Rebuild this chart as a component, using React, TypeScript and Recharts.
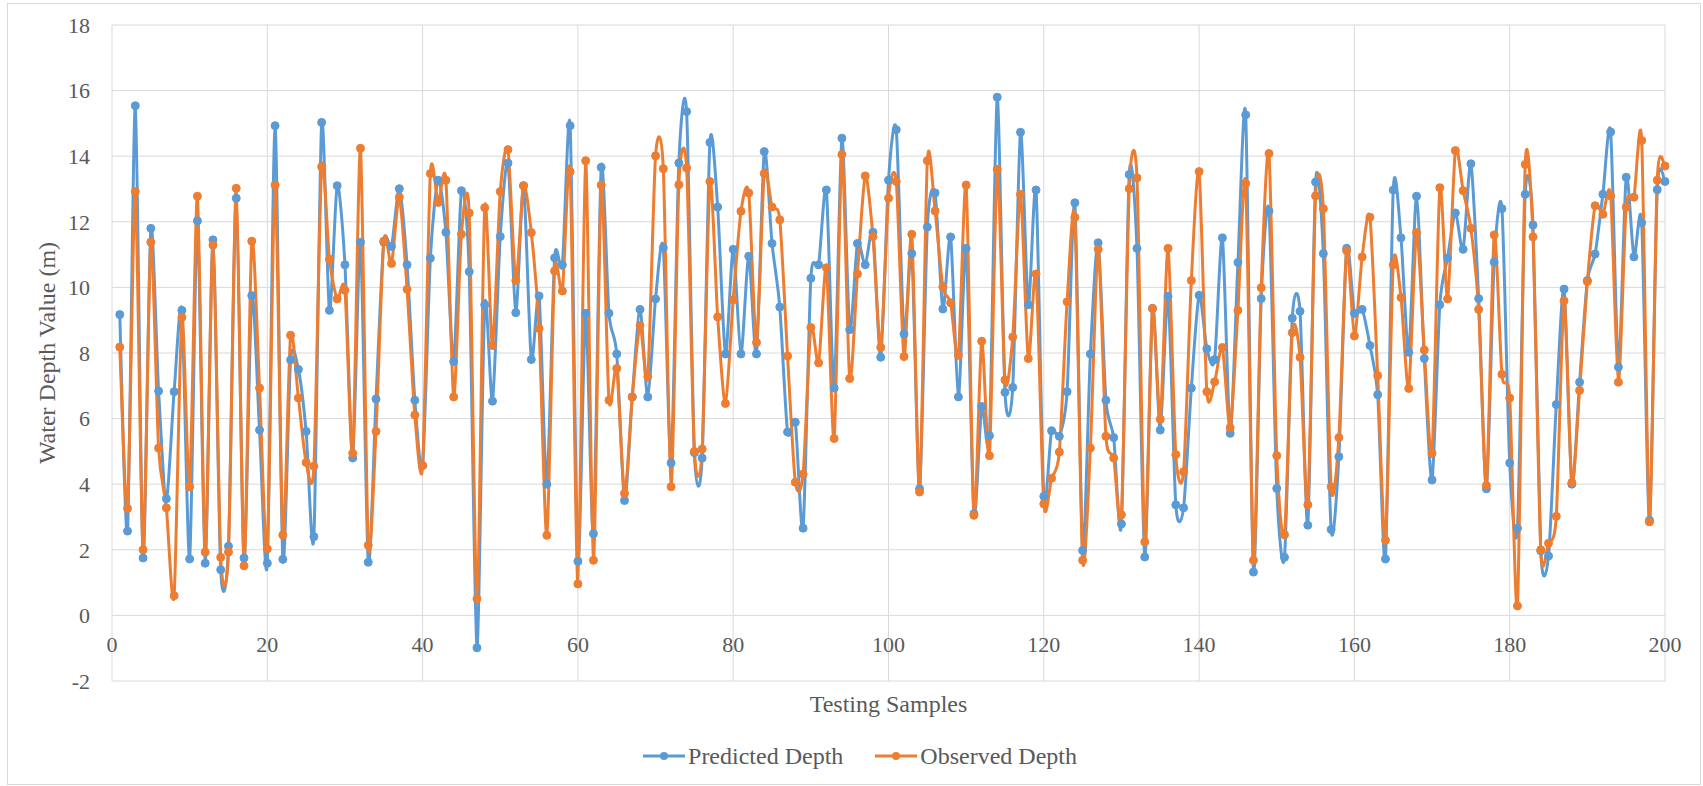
import React from "react";
import { LineChart, Line, XAxis, YAxis, CartesianGrid, Legend } from "recharts";

// sample-by-sample water depths (m)
const predictedDepth = [
  9.17, 2.57, 15.54, 1.75, 11.8, 6.84, 3.56, 6.82, 9.3, 1.72,
  12.03, 1.59, 11.45, 1.39, 2.11, 12.72, 1.75, 9.75, 5.65, 1.59,
  14.93, 1.71, 7.79, 7.5, 5.61, 2.4, 15.03, 9.3, 13.1, 10.69,
  4.8, 11.38, 1.62, 6.6, 11.38, 11.25, 13.01, 10.69, 6.56, 4.57,
  10.89, 13.27, 11.68, 7.74, 12.95, 10.48, -0.99, 9.47, 6.53, 11.55,
  13.79, 9.23, 13.1, 7.8, 9.74, 4.0, 10.9, 10.69, 14.93, 1.65,
  9.21, 2.49, 13.66, 9.21, 7.97, 3.5, 6.66, 9.33, 6.66, 9.65,
  11.21, 4.65, 13.79, 15.36, 4.96, 4.8, 14.42, 12.45, 7.97, 11.16,
  7.97, 10.95, 7.97, 14.14, 11.34, 9.4, 5.59, 5.89, 2.66, 10.28,
  10.69, 12.97, 6.93, 14.55, 8.71, 11.34, 10.69, 11.68, 7.87, 13.27,
  14.81, 8.58, 11.03, 3.86, 11.84, 12.88, 9.34, 11.54, 6.66, 11.19,
  3.1, 6.37, 5.48, 15.8, 6.8, 6.95, 14.73, 9.47, 12.97, 3.63,
  5.63, 5.46, 6.82, 12.58, 1.98, 7.97, 11.36, 6.56, 5.42, 2.79,
  13.44, 11.19, 1.78, 9.36, 5.65, 9.73, 3.37, 3.28, 6.93, 9.76,
  8.13, 7.8, 11.51, 5.55, 10.76, 15.26, 1.32, 9.66, 12.33, 3.87,
  1.77, 9.06, 9.27, 2.75, 13.21, 11.03, 2.62, 4.84, 11.19, 9.21,
  9.33, 8.23, 6.73, 1.72, 12.97, 11.51, 8.02, 12.78, 7.83, 4.13,
  9.47, 10.9, 12.27, 11.16, 13.77, 9.66, 3.86, 10.77, 12.4, 4.65,
  2.66, 12.84, 11.9, 1.97, 1.81, 6.43, 9.95, 4.0, 7.11, 10.21,
  11.02, 12.84, 14.74, 7.57, 13.36, 10.93, 11.97, 2.9, 12.98, 13.23,
];

const observedDepth = [
  8.18, 3.26, 12.92, 2.0, 11.38, 5.1, 3.28, 0.6, 9.09, 3.92,
  12.78, 1.93, 11.29, 1.77, 1.93, 13.02, 1.51, 11.41, 6.93, 2.03,
  13.12, 2.45, 8.54, 6.63, 4.66, 4.55, 13.68, 10.86, 9.65, 9.91,
  4.94, 14.24, 2.14, 5.61, 11.41, 10.73, 12.75, 9.94, 6.11, 4.57,
  13.47, 12.59, 13.27, 6.66, 11.62, 12.27, 0.51, 12.43, 8.23, 12.92,
  14.2, 10.21, 13.1, 11.67, 8.75, 2.44, 10.5, 9.89, 13.53, 0.96,
  13.86, 1.68, 13.12, 6.56, 7.53, 3.72, 6.66, 8.84, 7.28, 14.01,
  13.62, 3.92, 13.13, 13.64, 5.0, 5.07, 13.23, 9.1, 6.46, 9.62,
  12.32, 12.88, 8.32, 13.47, 12.45, 12.06, 7.91, 4.06, 4.31, 8.78,
  7.7, 10.6, 5.39, 14.05, 7.22, 10.41, 13.4, 11.55, 8.17, 12.72,
  13.23, 7.89, 11.62, 3.76, 13.86, 12.33, 10.02, 9.53, 7.93, 13.12,
  3.05, 8.36, 4.87, 13.6, 7.18, 8.49, 12.84, 7.83, 10.41, 3.4,
  4.18, 4.98, 9.56, 12.14, 1.68, 5.1, 11.16, 5.46, 4.8, 3.07,
  13.01, 13.34, 2.24, 9.36, 5.98, 11.19, 4.9, 4.38, 10.21, 13.53,
  6.82, 7.12, 8.17, 5.72, 9.3, 13.17, 1.68, 9.99, 14.08, 4.87,
  2.46, 8.62, 7.87, 3.37, 12.79, 12.4, 3.92, 5.42, 11.12, 8.52,
  10.93, 12.14, 7.31, 2.29, 10.69, 9.69, 6.92, 11.67, 8.09, 4.94,
  13.04, 9.65, 14.17, 12.95, 11.8, 9.33, 3.96, 11.6, 7.35, 6.63,
  0.29, 13.75, 11.54, 2.0, 2.2, 3.02, 9.59, 4.05, 6.86, 10.18,
  12.49, 12.23, 12.79, 7.11, 12.45, 12.75, 14.48, 2.85, 13.27, 13.7,
];

const xTicks = [0, 20, 40, 60, 80, 100, 120, 140, 160, 180, 200];
const yTicks = [-2, 0, 2, 4, 6, 8, 10, 12, 14, 16, 18];

const PREDICTED_COLOR = "#5B9BD5";
const OBSERVED_COLOR = "#ED7D31";
const TEXT_COLOR = "#595959";
const GRID_COLOR = "#d9d9d9";
const FONT = '"Liberation Serif", "DejaVu Serif", "Noto Serif", "Times New Roman", Times, serif';

const seriesList = [
  { key: "predicted", name: "Predicted Depth", color: PREDICTED_COLOR },
  { key: "observed", name: "Observed Depth", color: OBSERVED_COLOR },
];

const rows = predictedDepth.map((p, i) => ({
  sample: i + 1,
  predicted: p,
  observed: observedDepth[i],
}));

// Office-style smoothed line: cubic segments with damped Catmull-Rom tangents
const SMOOTH = 1 / 8;
const smoothCurve = (context: any) => {
  let pts: number[][] = [];
  return {
    areaStart() {},
    areaEnd() {},
    lineStart() {
      pts = [];
    },
    point(x: number, y: number) {
      pts.push([+x, +y]);
    },
    lineEnd() {
      if (!pts.length) return;
      context.moveTo(pts[0][0], pts[0][1]);
      for (let i = 0; i < pts.length - 1; i++) {
        const p0 = pts[Math.max(i - 1, 0)];
        const p1 = pts[i];
        const p2 = pts[i + 1];
        const p3 = pts[Math.min(i + 2, pts.length - 1)];
        context.bezierCurveTo(
          p1[0] + (p2[0] - p0[0]) * SMOOTH,
          p1[1] + (p2[1] - p0[1]) * SMOOTH,
          p2[0] - (p3[0] - p1[0]) * SMOOTH,
          p2[1] - (p3[1] - p1[1]) * SMOOTH,
          p2[0],
          p2[1]
        );
      }
    },
  };
};

function DepthLegend() {
  return (
    <div
      style={{
        display: "flex",
        justifyContent: "center",
        gap: 32,
        paddingLeft: 17,
        fontFamily: FONT,
        fontSize: 24,
        lineHeight: "28px",
        color: TEXT_COLOR,
      }}
    >
      {seriesList.map((s) => (
        <div key={s.key} style={{ display: "flex", alignItems: "center" }}>
          <svg width={42} height={12}>
            <line x1={0} y1={6} x2={42} y2={6} stroke={s.color} strokeWidth={3} />
            <circle cx={21} cy={6} r={4} fill={s.color} />
          </svg>
          <span style={{ marginLeft: 3 }}>{s.name}</span>
        </div>
      ))}
    </div>
  );
}

export default function App() {
  return (
    <div
      style={{
        position: "absolute",
        left: 0,
        top: 0,
        width: 1703,
        height: 786,
        background: "#fff",
        fontFamily: FONT,
      }}
    >
      <LineChart
        width={1703}
        height={786}
        data={rows}
        margin={{ top: 25, right: 38, left: 0, bottom: 65 }}
        style={{ fontFamily: FONT }}
      >
        <CartesianGrid stroke={GRID_COLOR} strokeWidth={1} />
        <XAxis
          dataKey="sample"
          type="number"
          domain={[0, 200]}
          ticks={xTicks}
          height={40}
          axisLine={false}
          tickLine={false}
          tickSize={0}
          tickMargin={0}
          tick={{ fontSize: 22, fill: TEXT_COLOR, fontFamily: FONT, dy: -45 }}
          label={{
            value: "Testing Samples",
            position: "insideBottom",
            offset: 9,
            fontSize: 24,
            fontFamily: FONT,
            fill: TEXT_COLOR,
          }}
        />
        <YAxis
          type="number"
          domain={[-2, 18]}
          ticks={yTicks}
          width={112}
          axisLine={false}
          tickLine={false}
          tickSize={0}
          tickMargin={22}
          tick={{ fontSize: 22, fill: TEXT_COLOR, fontFamily: FONT }}
          label={{
            value: "Water Depth Value (m)",
            angle: -90,
            position: "insideLeft",
            offset: 46,
            fontSize: 24,
            fontFamily: FONT,
            fill: TEXT_COLOR,
            style: { textAnchor: "middle" },
          }}
        />
        <Legend
          layout="horizontal"
          align="center"
          verticalAlign="middle"
          wrapperStyle={{ top: 742, left: 0, width: 1703 }}
          content={<DepthLegend />}
        />
        {seriesList.map((s) => (
          <Line
            key={s.key}
            name={s.name}
            dataKey={s.key}
            type={smoothCurve as any}
            stroke={s.color}
            strokeWidth={3}
            dot={{ r: 4, fill: s.color, stroke: s.color, strokeWidth: 1 }}
            isAnimationActive={false}
          />
        ))}
      </LineChart>
      <div
        style={{
          position: "absolute",
          left: 7,
          top: 3,
          width: 1694,
          height: 782,
          border: `1px solid ${GRID_COLOR}`,
          boxSizing: "border-box",
          pointerEvents: "none",
        }}
      />
    </div>
  );
}
